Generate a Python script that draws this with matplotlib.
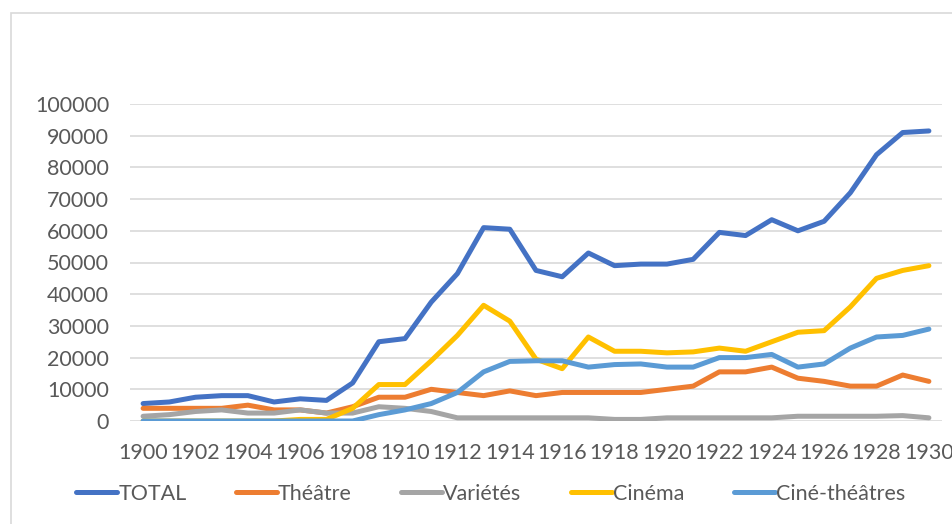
import matplotlib
matplotlib.use("Agg")
import matplotlib.pyplot as plt
from matplotlib.patches import Rectangle

years = list(range(1900, 1931))
total = [5500, 6000, 7500, 8000, 8000, 6000, 7000, 6500, 12000, 25000, 26000,
         37500, 46500, 61000, 60500, 47500, 45500, 53000, 49000, 49500, 49500,
         51000, 59500, 58500, 63500, 60000, 63000, 72000, 84000, 91000, 91500]
theatre = [4000, 4000, 4000, 4000, 5000, 3500, 3500, 2500, 4500, 7500, 7500,
           10000, 9000, 8000, 9500, 8000, 9000, 9000, 9000, 9000, 10000,
           11000, 15500, 15500, 17000, 13500, 12500, 11000, 11000, 14500, 12500]
varietes = [1500, 2000, 3000, 3500, 2500, 2500, 3500, 2500, 2500, 4500, 4000,
            3000, 1000, 1000, 1000, 1000, 1000, 1000, 500, 500, 1000,
            1000, 1000, 1000, 1000, 1500, 1500, 1500, 1500, 1700, 1000]
cinema = [0, 0, 0, 0, 0, 0, 500, 500, 4000, 11500, 11500,
          19000, 27000, 36500, 31500, 19500, 16500, 26500, 22000, 22000, 21500,
          21800, 23000, 22000, 25000, 28000, 28500, 36000, 45000, 47500, 49000]
cine_theatres = [0, 0, 0, 0, 0, 0, 0, 0, 0, 2000, 3500,
                 5500, 9000, 15500, 18800, 19000, 19000, 17000, 17800, 18000, 17000,
                 17000, 20000, 20000, 21000, 17000, 18000, 23000, 26500, 27000, 29000]

series = [("TOTAL", total, "#4472C4"),
          ("Théâtre", theatre, "#ED7D31"),
          ("Variétés", varietes, "#A5A5A5"),
          ("Cinéma", cinema, "#FFC000"),
          ("Ciné-théâtres", cine_theatres, "#5B9BD5")]
xticks = list(range(1900, 1931, 2))
yticks = list(range(0, 100001, 10000))

plt.rcParams['font.family'] = ['Lato', 'DejaVu Sans']
fig = plt.figure(figsize=(9.53, 5.24), dpi=100)
ax = fig.add_axes([130/953, 1-421/524, (942-130)/953, (421-104)/524])

for name, vals, col in series:
    ax.plot(years, vals, color=col, lw=3.6, label=name, solid_capstyle='round',
            solid_joinstyle='round')

ax.set_xlim(1899.5, 1930.5)
ax.set_ylim(0, 100000)
ax.set_yticks(yticks)
ax.set_xticks(xticks)
ax.set_yticklabels([str(v) for v in yticks])
ax.set_xticklabels([str(v) for v in xticks])
ax.grid(axis='y', color='#d9d9d9', lw=1.2)
ax.set_axisbelow(True)
for s in ax.spines.values():
    s.set_visible(False)
ax.tick_params(axis='both', length=0, labelsize=15.5, colors='#595959')
ax.tick_params(axis='y', pad=15)
ax.tick_params(axis='x', pad=16)

leg = fig.legend(loc='center', bbox_to_anchor=(0.515, 1-494/524), ncol=5,
                 frameon=False, fontsize=15.5, handlelength=1.9, handletextpad=0.05,
                 columnspacing=2.3)
for t in leg.get_texts():
    t.set_color('#595959')

fig.patches.append(Rectangle((11/953, -0.5), 2.0, 1.5 - 13/524 + 0.0,
                             transform=fig.transFigure, fill=False,
                             edgecolor='#d9d9d9', lw=1.2))

fig.savefig("out.png", dpi=100, facecolor='white')
